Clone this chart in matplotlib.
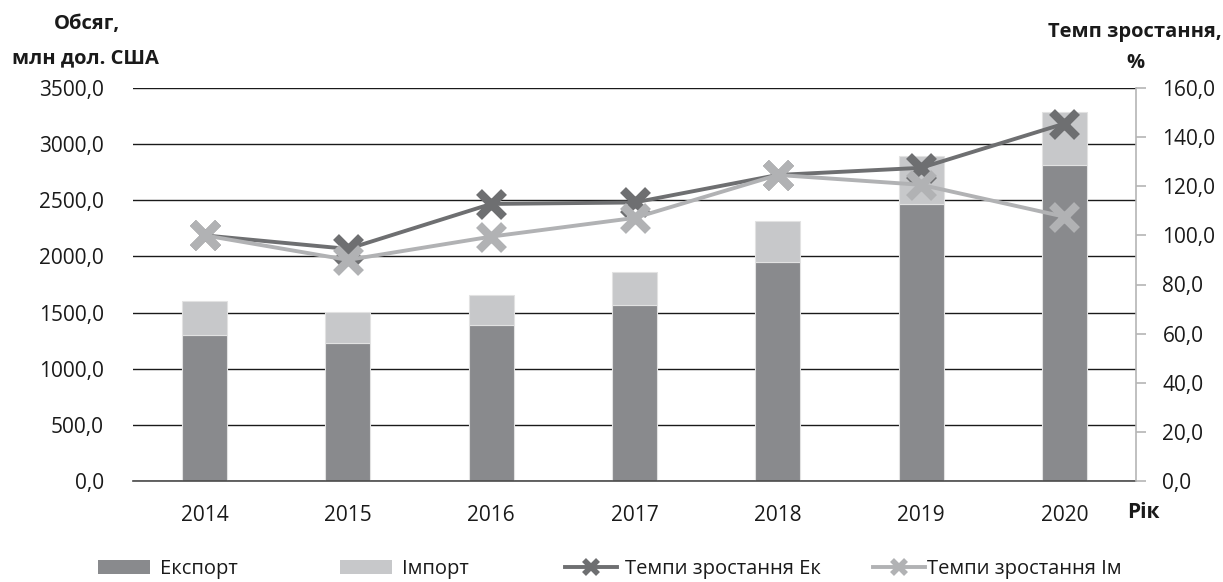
import matplotlib
matplotlib.use("Agg")
import matplotlib.pyplot as plt
from matplotlib.lines import Line2D
from matplotlib.patches import Patch
import numpy as np

years = ["2014", "2015", "2016", "2017", "2018", "2019", "2020"]
export = [1300, 1232, 1389, 1567, 1950, 2464, 2814]
imports = [306, 270, 270, 293, 366, 433, 470]
growth_ek = [100.0, 94.5, 112.8, 113.4, 124.6, 127.5, 145.5]
growth_im = [100.0, 90.0, 99.5, 107.1, 124.6, 120.6, 107.6]

left_ticks = [0, 500, 1000, 1500, 2000, 2500, 3000, 3500]
right_ticks = [0, 20, 40, 60, 80, 100, 120, 140, 160]

legend_labels = ["Експорт", "Імпорт", "Темпи зростання Ек", "Темпи зростання Ім"]

plt.rcParams['font.family'] = ['Open Sans', 'DejaVu Sans']

W, H = 1223, 582
fig = plt.figure(figsize=(W / 100, H / 100), dpi=100)
ax = fig.add_axes([133 / W, 1 - 481 / H, (1136 - 133) / W, (481 - 88) / H])

c_exp = "#898a8d"
c_imp = "#c7c8ca"
c_ek = "#6e6f71"
c_im = "#b1b2b4"

x = np.arange(len(years))
bw = 0.315
ax.bar(x, export, bw, color=c_exp, edgecolor="#e2e2e2", linewidth=0.8, zorder=3)
ax.bar(x, imports, bw, bottom=export, color=c_imp, edgecolor="#e2e2e2", linewidth=0.8, zorder=3)

ax.set_xlim(-0.5, len(years) - 0.5)
ax.set_ylim(0, 3500)
ax.set_yticks(left_ticks)
ax.set_yticklabels([f"{v:.1f}".replace(".", ",") for v in left_ticks])
ax.yaxis.grid(True, color="#1a1a1a", linewidth=1.0, zorder=0)
ax.set_axisbelow(True)
ax.set_xticks(x)
ax.set_xticklabels(years)
for s in ["left", "top", "right"]:
    ax.spines[s].set_visible(False)
ax.spines["bottom"].set_color("#4a4a4a")
ax.spines["bottom"].set_linewidth(1.2)
ax.spines["bottom"].set_zorder(4)
ax.tick_params(axis="y", length=0, pad=21, labelsize=15, labelcolor="#1a1a1a")
ax.tick_params(axis="x", length=0, pad=17, labelsize=15, labelcolor="#1a1a1a")

ax2 = ax.twinx()
ax2.set_ylim(0, 160)
ax2.set_yticks(right_ticks)
ax2.set_yticklabels([f"{v:.1f}".replace(".", ",") for v in right_ticks])
for s in ["left", "top", "bottom"]:
    ax2.spines[s].set_visible(False)
ax2.spines["right"].set_color("#b5b5b5")
ax2.spines["right"].set_linewidth(1.2)
ax2.tick_params(axis="y", length=7, width=1.2, color="#b5b5b5", pad=12,
                labelsize=15, labelcolor="#1a1a1a")

ax2.plot(x, growth_ek, color=c_ek, linewidth=2.8, marker="x", markersize=18,
         markeredgewidth=6, zorder=5)
ax2.plot(x, growth_im, color=c_im, linewidth=2.8, marker="x", markersize=18,
         markeredgewidth=6, zorder=6)

# axis titles
tkw = dict(ha="center", va="center", fontsize=14.5, fontweight="bold", color="#1a1a1a")
fig.text(87 / W, 1 - 24 / H, "Обсяг,", **tkw)
fig.text(85 / W, 1 - 58 / H, "млн дол. США", **tkw)
fig.text(1135 / W, 1 - 32 / H, "Темп зростання,", **tkw)
fig.text(1135 / W, 1 - 63 / H, "%", **tkw)
fig.text(1143 / W, 1 - 513 / H, "Рік", ha="center", va="center", fontsize=15,
         fontweight="bold", color="#1a1a1a")

# legend (separate entries to match spacing)
handles = [
    Patch(facecolor=c_exp, edgecolor="none"),
    Patch(facecolor=c_imp, edgecolor="none"),
    Line2D([], [], color=c_ek, linewidth=2.8, marker="x", markersize=10, markeredgewidth=4),
    Line2D([], [], color=c_im, linewidth=2.8, marker="x", markersize=10, markeredgewidth=4),
]
starts = [98, 340, 565, 873]
pads = [0.5, 0.5, 0.4, 0.1]
for h, lab, sx, p in zip(handles, legend_labels, starts, pads):
    leg = fig.legend([h], [lab], loc="center left", bbox_to_anchor=(sx / W, 1 - 569 / H),
                     frameon=False, fontsize=14.5, handlelength=2.6, handleheight=0.65,
                     handletextpad=p, borderpad=0, borderaxespad=0)
    for t in leg.get_texts():
        t.set_color("#1a1a1a")

fig.savefig("out.png", dpi=100)
